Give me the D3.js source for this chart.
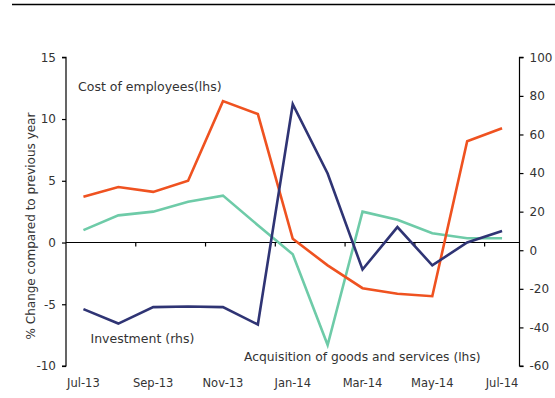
<!DOCTYPE html>
<html>
<head>
<meta charset="utf-8">
<script src="https://cdn.jsdelivr.net/npm/d3@7"></script>
<style>
  html, body { margin: 0; padding: 0; background: #fff; }
  svg { display: block; }
  text { font-family: "DejaVu Sans", sans-serif; fill: #333; }
</style>
</head>
<body>
<script>
// Monthly categories, Jul-13 to Jul-14
const months = ["Jul-13","Aug-13","Sep-13","Oct-13","Nov-13","Dec-13","Jan-14","Feb-14","Mar-14","Apr-14","May-14","Jun-14","Jul-14"];
const tickLabels = ["Jul-13","Sep-13","Nov-13","Jan-14","Mar-14","May-14","Jul-14"];

// Year-on-year % change
const costOfEmployees = [3.7, 4.5, 4.1, 5.0, 11.45, 10.4, 0.3, -1.85, -3.7, -4.15, -4.35, 8.2, 9.25];   // lhs
const acquisition     = [1.0, 2.2, 2.5, 3.3, 3.8, 1.4, -0.95, -8.3, 2.5, 1.85, 0.75, 0.35, 0.35];     // lhs
const investment      = [-30.5, -38, -29.5, -29.2, -29.5, -38.5, 75.7, 39.8, -10, 12, -7.8, 4, 10];    // rhs

const leftTicks  = [-10, -5, 0, 5, 10, 15];
const rightTicks = [-60, -40, -20, 0, 20, 40, 60, 80, 100];

const W = 555, H = 398;
const plotLeft = 66, plotRight = 519.5, plotTop = 57.3, plotBottom = 366;

const svg = d3.select("body").append("svg").attr("width", W).attr("height", H);

// Header rule
svg.append("line").attr("x1", 12).attr("x2", W).attr("y1", 4.5).attr("y2", 4.5)
  .attr("stroke", "#000").attr("stroke-width", 1.5);

const x = d3.scaleBand().domain(months).range([plotLeft, plotRight]).paddingInner(0).paddingOuter(0);
const xc = m => x(m) + x.bandwidth() / 2;
const yL = d3.scaleLinear().domain([-10, 15]).range([plotBottom, plotTop]);
const yR = d3.scaleLinear().domain([-60, 100]).range([plotBottom, plotTop]);

// Plain hyphen for negatives
const fmt = d => String(d);

// Left axis
const gL = svg.append("g").attr("transform", `translate(${plotLeft},0)`)
  .call(d3.axisLeft(yL).tickValues(leftTicks).tickSize(4).tickPadding(6).tickFormat(fmt));
// Right axis
const gR = svg.append("g").attr("transform", `translate(${plotRight},0)`)
  .call(d3.axisRight(yR).tickValues(rightTicks).tickSize(4).tickPadding(6).tickFormat(fmt));
[gL, gR].forEach(g => {
  g.select(".domain").attr("stroke", "#000").attr("stroke-width", 1.2);
  g.selectAll(".tick line").attr("stroke", "#000").attr("stroke-width", 1.2);
  g.selectAll(".tick text").attr("font-size", 12).attr("fill", "#333")
    .style("font-family", '"DejaVu Sans", sans-serif');
});
gL.select(".domain").attr("d", `M-4,${plotTop}H0V${plotBottom}H-4`);
gR.select(".domain").attr("d", `M4,${plotTop}H0V${plotBottom}H4`);

// Zero line with ticks every second month boundary
const zeroY = yL(0);
const bounds = d3.range(1, months.length + 1).filter(i => i % 2 === 0).map(i => plotLeft + i * x.bandwidth());
svg.append("line").attr("x1", plotLeft).attr("x2", plotRight).attr("y1", zeroY).attr("y2", zeroY)
  .attr("stroke", "#000").attr("stroke-width", 1.2);
svg.selectAll(".xtick").data(bounds).enter().append("line")
  .attr("x1", d => d).attr("x2", d => d).attr("y1", zeroY).attr("y2", zeroY + 4)
  .attr("stroke", "#000").attr("stroke-width", 1.2);

// Month labels below the plot
svg.selectAll(".xlab").data(tickLabels).enter().append("text")
  .attr("x", d => xc(d)).attr("y", 387).attr("text-anchor", "middle")
  .attr("font-size", 11.5).text(d => d);

// Left axis title
svg.append("text").attr("transform", `translate(35,226) rotate(-90)`)
  .attr("text-anchor", "middle").attr("font-size", 12)
  .text("% Change compared to previous year");

// Series
const series = [
  { values: acquisition, y: yL, color: "#6ECBA8" },
  { values: costOfEmployees, y: yL, color: "#EF5220" },
  { values: investment, y: yR, color: "#2F3474" }
];
series.forEach(s => {
  const line = d3.line().x((d, i) => xc(months[i])).y(d => s.y(d));
  svg.append("path").datum(s.values).attr("d", line)
    .attr("fill", "none").attr("stroke", s.color).attr("stroke-width", 2.6)
    .attr("stroke-linejoin", "miter");
});

// Series labels
svg.append("text").attr("x", 78).attr("y", 91).attr("font-size", 12.5).text("Cost of employees(lhs)");
svg.append("text").attr("x", 90.5).attr("y", 343).attr("font-size", 12.5).text("Investment (rhs)");
svg.append("text").attr("x", 244).attr("y", 361).attr("font-size", 12.3).text("Acquisition of goods and services (lhs)");
</script>
</body>
</html>
